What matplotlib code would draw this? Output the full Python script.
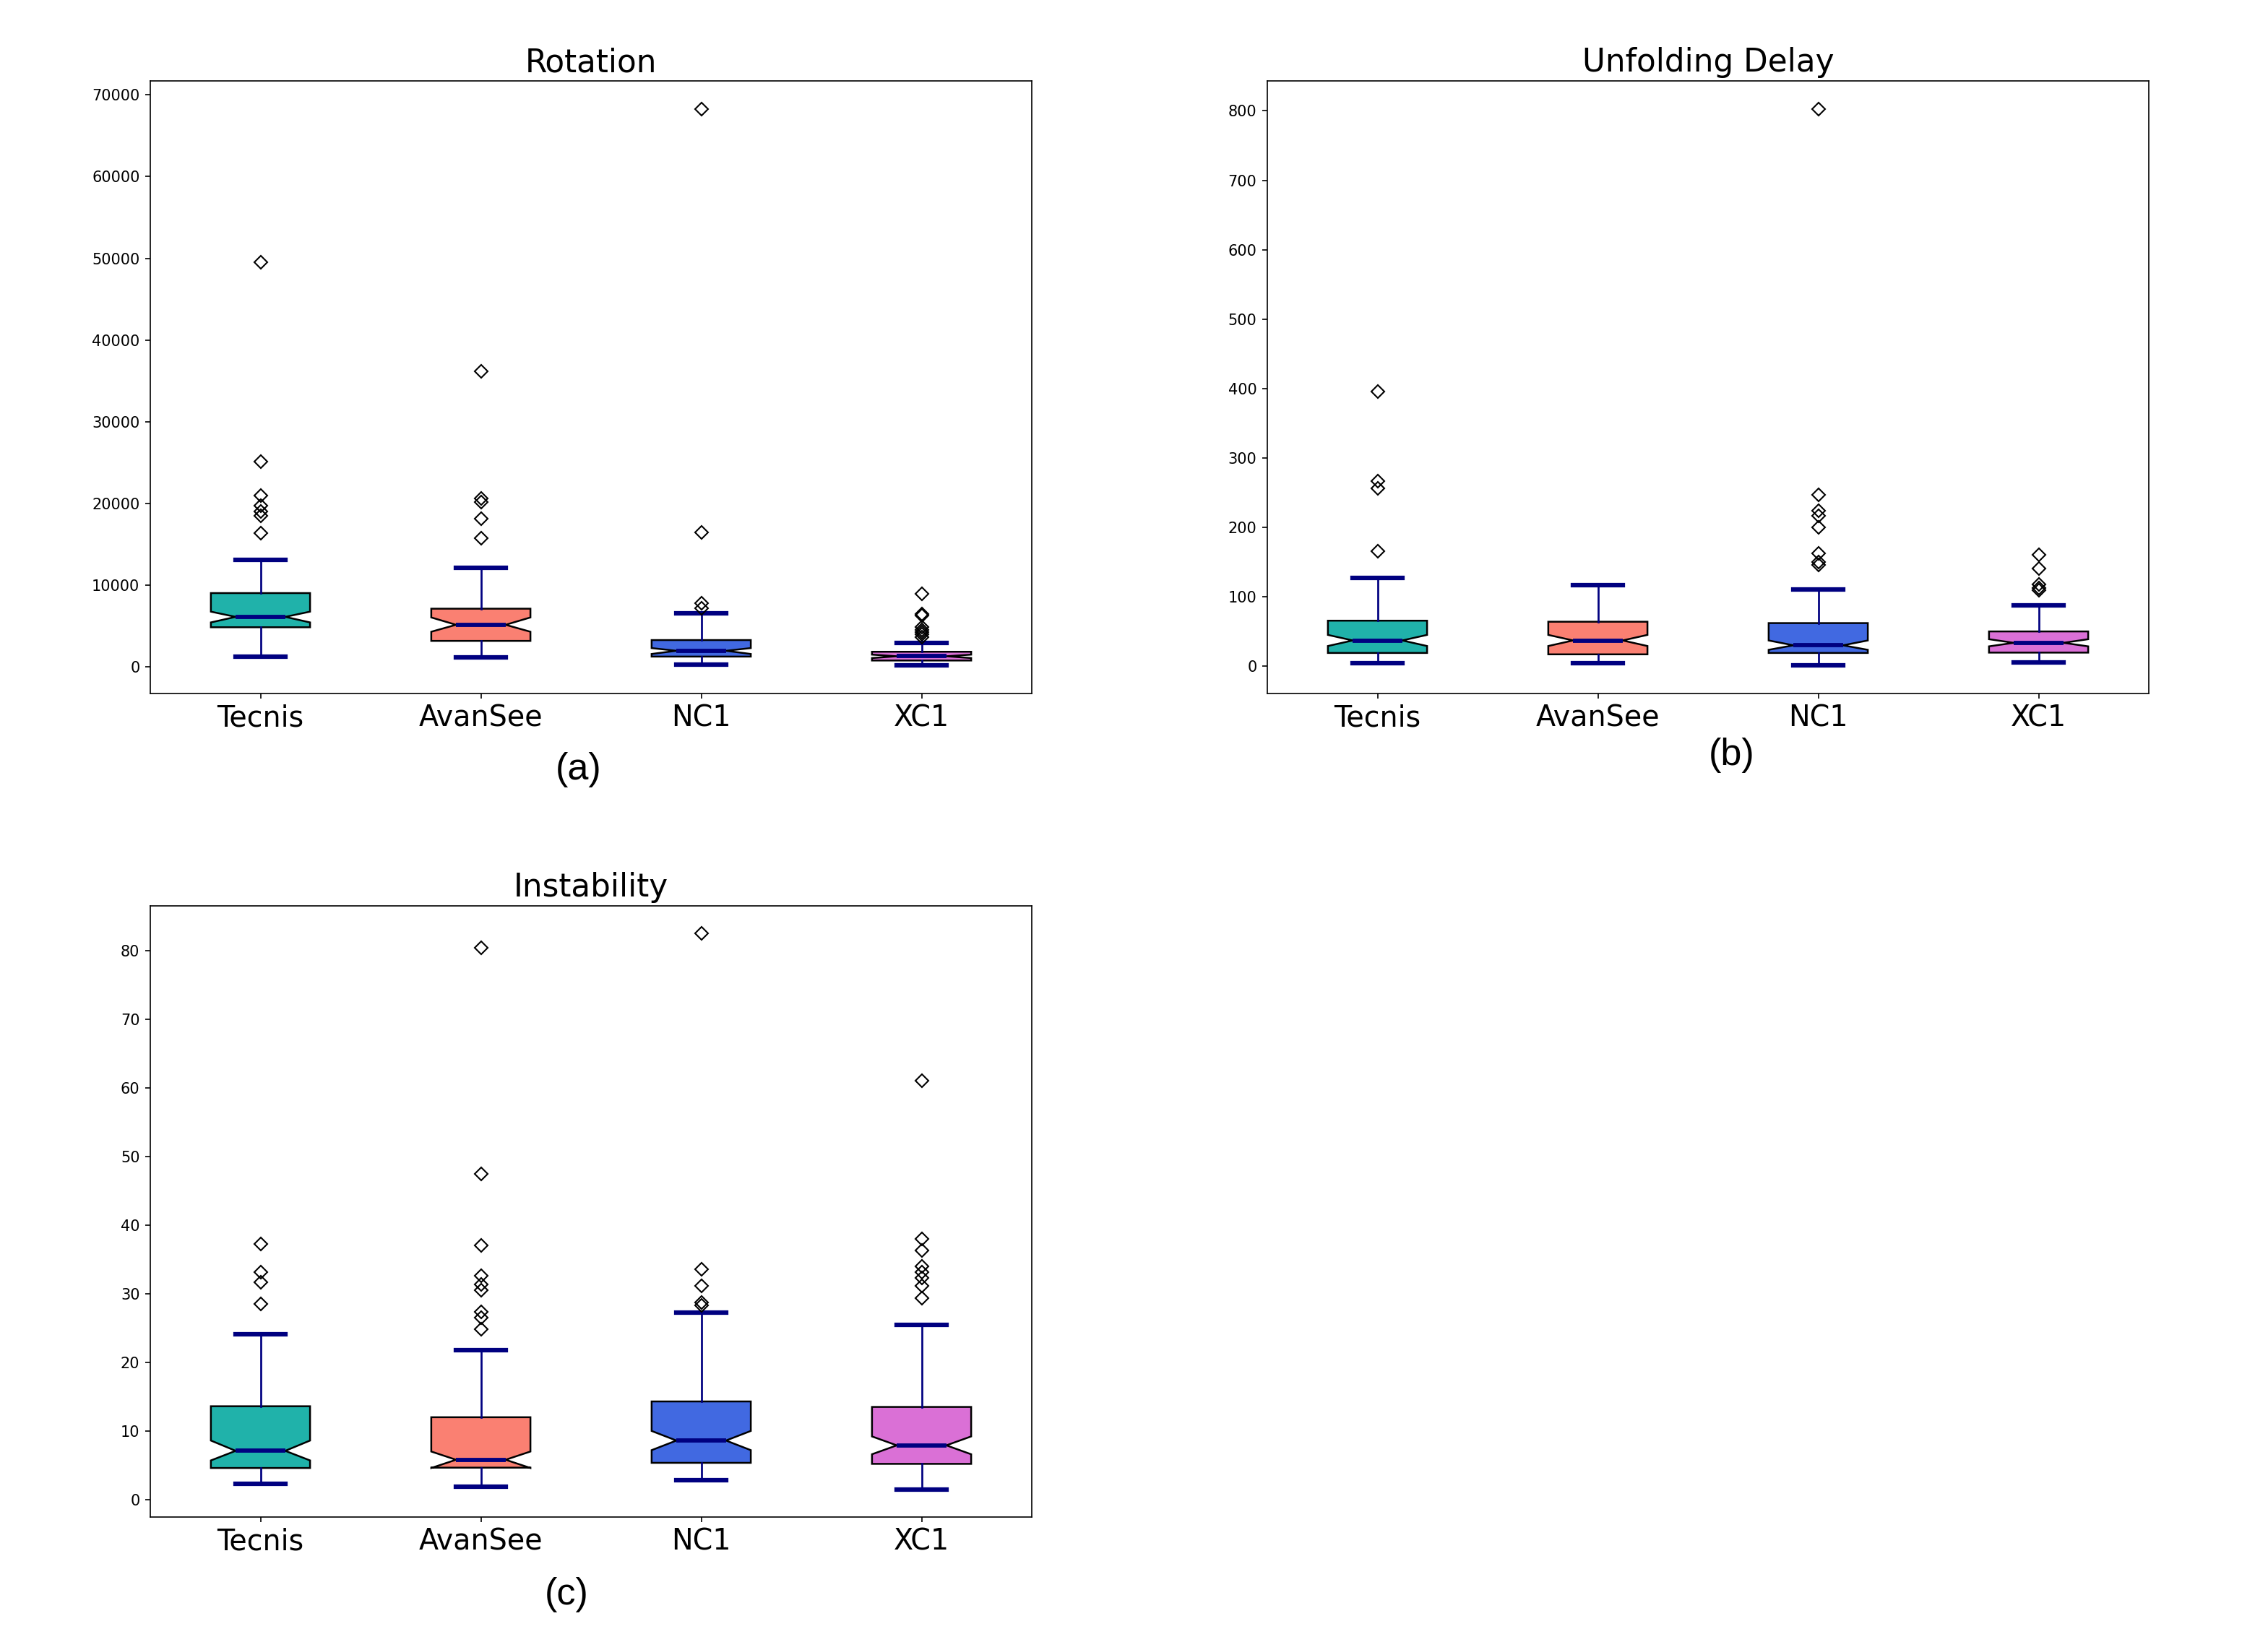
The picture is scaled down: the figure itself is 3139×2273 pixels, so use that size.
import matplotlib
matplotlib.use('Agg')
import matplotlib.pyplot as plt

categories = ['Tecnis', 'AvanSee', 'NC1', 'XC1']
titles = ['Rotation', 'Unfolding Delay', 'Instability']
panel_labels = ['(a)', '(b)', '(c)']

# ---- Rotation ----
rot_whislo = [1260, 1120, 290, 150]
rot_q1 = [4850, 3180, 1260, 780]
rot_cilo = [5440, 4300, 1580, 1080]
rot_med = [6120, 5150, 1970, 1300]
rot_cihi = [6760, 6050, 2300, 1500]
rot_q3 = [9030, 7120, 3280, 1850]
rot_whishi = [13090, 12120, 6560, 2940]
rot_fliers = [
    [49500, 25150, 20980, 19710, 18980, 18530, 16390],
    [36200, 20590, 20150, 18180, 15710],
    [68300, 16500, 7750, 7200],
    [8970, 6500, 6250, 4900, 4550, 4250, 3950, 3650],
]

# ---- Unfolding Delay ----
ud_whislo = [4.2, 4.2, 0.7, 5.5]
ud_q1 = [19, 17, 19, 19.5]
ud_cilo = [29, 29, 23.5, 28.5]
ud_med = [37, 37, 30, 33.6]
ud_cihi = [45, 45, 37, 38.8]
ud_q3 = [65.5, 64, 62, 50]
ud_whishi = [126.8, 117, 110.4, 87.3]
ud_fliers = [
    [396, 266.7, 256.3, 165.2],
    [],
    [803, 247.3, 224, 217, 200, 162.4, 150, 146],
    [160.7, 141, 118, 113, 109.8],
]

# ---- Instability ----
ins_whislo = [2.3, 1.85, 2.8, 1.5]
ins_q1 = [4.6, 4.65, 5.35, 5.2]
ins_cilo = [5.7, 4.6, 7.2, 6.6]
ins_med = [7.1, 5.8, 8.6, 7.9]
ins_cihi = [8.6, 7.0, 10.0, 9.2]
ins_q3 = [13.6, 12.0, 14.3, 13.5]
ins_whishi = [24.1, 21.8, 27.3, 25.5]
ins_fliers = [
    [37.3, 33.2, 31.65, 28.5],
    [80.4, 47.5, 37.0, 32.6, 31.4, 30.5, 27.4, 26.5, 24.8],
    [82.5, 33.6, 31.1, 28.7, 28.3],
    [61.1, 38.0, 36.3, 34.0, 33.2, 32.3, 31.2, 29.4],
]

panels = [
    (rot_whislo, rot_q1, rot_cilo, rot_med, rot_cihi, rot_q3, rot_whishi, rot_fliers),
    (ud_whislo, ud_q1, ud_cilo, ud_med, ud_cihi, ud_q3, ud_whishi, ud_fliers),
    (ins_whislo, ins_q1, ins_cilo, ins_med, ins_cihi, ins_q3, ins_whishi, ins_fliers),
]

box_colors = ['lightseagreen', 'salmon', 'royalblue', 'orchid']

W, H = 3139, 2273
fig = plt.figure(figsize=(W / 150, H / 150), dpi=150)

axes_px = [(208, 112, 1428, 960), (1754, 112, 2974, 960), (208, 1254, 1428, 2100)]
label_px = [(801, 1065), (2397, 1045), (784, 2207)]

for i, (pan, (x0, y0, x1, y1)) in enumerate(zip(panels, axes_px)):
    ax = fig.add_axes([x0 / W, 1 - y1 / H, (x1 - x0) / W, (y1 - y0) / H])
    wl, q1, cl, md, ch, q3, wh, fl = pan
    stats = []
    for j, cat in enumerate(categories):
        stats.append(dict(label=cat, whislo=wl[j], q1=q1[j], cilo=cl[j], med=md[j],
                          cihi=ch[j], q3=q3[j], whishi=wh[j], fliers=fl[j]))
    bp = ax.bxp(stats, positions=[1, 2, 3, 4], widths=0.45, shownotches=True,
                patch_artist=True,
                boxprops=dict(edgecolor='black', linewidth=1.2),
                medianprops=dict(color='navy', linewidth=2.8),
                whiskerprops=dict(color='navy', linewidth=1.3),
                capprops=dict(color='navy', linewidth=3.0),
                flierprops=dict(marker='D', markerfacecolor='none',
                                markeredgecolor='black', markersize=6.3,
                                markeredgewidth=1.0, linestyle='none'))
    for patch, c in zip(bp['boxes'], box_colors):
        patch.set_facecolor(c)
    ax.set_title(titles[i], fontsize=21)
    ax.tick_params(axis='x', labelsize=19)
    ax.tick_params(axis='y', labelsize=10)
    lx, ly = label_px[i]
    fig.text(lx / W, 1 - ly / H, panel_labels[i], fontsize=25,
             family=['Liberation Sans', 'DejaVu Sans'], ha='center', va='center')

fig.savefig('out.png', dpi=150)
